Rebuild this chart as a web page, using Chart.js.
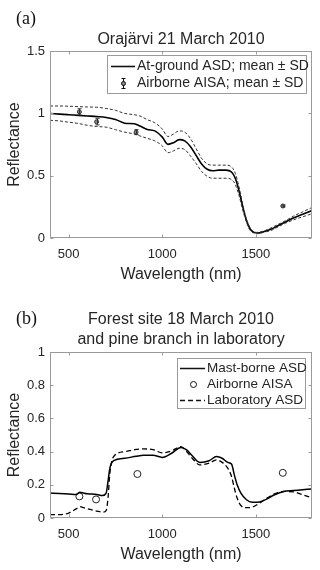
<!DOCTYPE html>
<html>
<head>
<meta charset="utf-8">
<script src="https://cdn.jsdelivr.net/npm/chart.js@4.4.1/dist/chart.umd.min.js"></script>
<style>
    html, body { margin: 0; padding: 0; background: #fff; }
    body { width: 320px; height: 570px; position: relative; overflow: hidden; }
    .panel { position: absolute; left: 0; width: 320px; }
    .tag { position: absolute; left: 16px; font-family: 'Liberation Serif', 'Times New Roman', serif; font-size: 18px; line-height: 18px; color: #111; }
</style>
</head>
<body>
<div class="panel" style="top:0;height:290px"><canvas id="chartA" width="320" height="290"></canvas></div>
<div class="tag" style="top:9px">(a)</div>
<div class="panel" style="top:290px;height:280px"><canvas id="chartB" width="320" height="280"></canvas></div>
<div class="tag" style="top:309px">(b)</div>
<script>
// ---- panel (a): Orajärvi 21 March 2010 ----
var waveA = [400, 450, 500, 550, 600, 650, 700, 750, 800, 850, 880, 920, 960, 1000, 1030, 1060, 1090, 1120, 1150, 1180,
             1210, 1240, 1270, 1300, 1340, 1370, 1390, 1410, 1430, 1450, 1470, 1490, 1510, 1540, 1580, 1620, 1660, 1700, 1750, 1800];
var meanA = [1.00, 0.995, 0.99, 0.985, 0.98, 0.975, 0.968, 0.952, 0.922, 0.917, 0.9, 0.872, 0.86, 0.81, 0.752, 0.765, 0.79, 0.78, 0.735, 0.665,
             0.595, 0.552, 0.54, 0.545, 0.545, 0.53, 0.48, 0.38, 0.25, 0.14, 0.07, 0.045, 0.04, 0.05, 0.07, 0.10, 0.13, 0.16, 0.19, 0.22];
var upperA = [1.06, 1.06, 1.058, 1.055, 1.052, 1.05, 1.04, 1.025, 1.0, 0.99, 0.98, 0.95, 0.925, 0.875, 0.815, 0.835, 0.86, 0.85, 0.80, 0.72,
              0.64, 0.595, 0.585, 0.585, 0.585, 0.57, 0.52, 0.41, 0.27, 0.15, 0.08, 0.05, 0.045, 0.055, 0.08, 0.11, 0.14, 0.175, 0.21, 0.245];
var lowerA = [0.945, 0.94, 0.93, 0.92, 0.905, 0.895, 0.89, 0.87, 0.85, 0.835, 0.82, 0.80, 0.78, 0.74, 0.685, 0.70, 0.72, 0.71, 0.66, 0.60,
              0.535, 0.495, 0.48, 0.48, 0.48, 0.47, 0.43, 0.34, 0.225, 0.125, 0.06, 0.04, 0.035, 0.045, 0.06, 0.09, 0.12, 0.145, 0.17, 0.195];
var aisaWaveA = [557, 649, 860, 1644];
var aisaMeanA = [1.013, 0.933, 0.85, 0.257];
var aisaSdA = [0.025, 0.025, 0.02, 0.008];
var yTicksA = [0, 0.5, 1, 1.5];

// ---- panel (b): forest site 18 March 2010 and pine branch in laboratory ----
var waveB = [400, 450, 500, 540, 560, 580, 600, 650, 680, 700, 710, 720, 740, 800, 860, 900, 950, 1000, 1050, 1100,
             1130, 1160, 1200, 1250, 1290, 1320, 1350, 1370, 1385, 1400, 1420, 1450, 1480, 1520, 1560, 1600, 1650, 1700, 1750, 1800];
var mastB = [0.150, 0.148, 0.145, 0.142, 0.155, 0.150, 0.146, 0.142, 0.135, 0.150, 0.22, 0.30, 0.345, 0.36, 0.372, 0.378, 0.378, 0.365, 0.39, 0.425,
             0.41, 0.375, 0.335, 0.345, 0.37, 0.36, 0.335, 0.325, 0.26, 0.20, 0.15, 0.11, 0.095, 0.097, 0.115, 0.14, 0.16, 0.165, 0.17, 0.175];
var labB = [0.020, 0.020, 0.030, 0.055, 0.068, 0.062, 0.055, 0.042, 0.035, 0.045, 0.12, 0.27, 0.37, 0.40, 0.413, 0.416, 0.412, 0.392, 0.405, 0.43,
            0.40, 0.36, 0.32, 0.33, 0.35, 0.335, 0.30, 0.25, 0.18, 0.12, 0.075, 0.062, 0.065, 0.09, 0.12, 0.145, 0.16, 0.158, 0.14, 0.122];
var aisaWaveB = [557, 646, 867, 1644];
var aisaB = [0.13, 0.112, 0.265, 0.272];
var yTicksB = [0, 0.2, 0.4, 0.6, 0.8, 1];

var xTicks = [500, 1000, 1500];

var FONT = "'Liberation Sans', Arial, sans-serif";
var INK = '#262626';
var EDGE = '#9a9a9a';
Chart.defaults.font.family = FONT;
Chart.defaults.color = INK;

function pairs(xs, ys) {
    var out = [];
    for (var i = 0; i < xs.length; i++) out.push({ x: xs[i], y: ys[i] });
    return out;
}

function xScale() {
    return {
        type: 'linear', min: 400, max: 1800,
        grid: { display: false, drawTicks: false }, border: { display: false },
        ticks: { padding: 9, font: { size: 13 }, color: INK, callback: function(v) { return String(v); } },
        afterBuildTicks: function(s) { s.ticks = xTicks.map(function(v) { return { value: v }; }); },
        afterFit: function(s) { s.height = 46; },
        title: { display: true, text: 'Wavelength (nm)', font: { size: 16 }, color: INK, padding: { top: 0, bottom: 0 } }
    };
}

function yScale(max, ticks) {
    return {
        type: 'linear', min: 0, max: max,
        grid: { display: false, drawTicks: false }, border: { display: false },
        ticks: { padding: 5, font: { size: 13 }, color: INK, callback: function(v) { return String(v); } },
        afterBuildTicks: function(s) { s.ticks = ticks.map(function(v) { return { value: v }; }); },
        afterFit: function(s) { s.width = 50; },
        title: { display: true, text: 'Reflectance', font: { size: 16 }, color: INK, padding: { top: 5, bottom: 0 } }
    };
}

// box with inward tick marks on all four sides
var framePlugin = {
    id: 'frame',
    afterDatasetsDraw: function(chart) {
        var a = chart.chartArea, ctx = chart.ctx;
        var sx = chart.scales.x, sy = chart.scales.y;
        var L = Math.round(a.left) + 0.5, R = Math.round(a.right) - 0.5;
        var T = Math.round(a.top) + 0.5, B = Math.round(a.bottom) - 0.5;
        ctx.save();
        ctx.strokeStyle = EDGE;
        ctx.lineWidth = 1;
        ctx.strokeRect(L, T, R - L, B - T);
        ctx.beginPath();
        sx.ticks.forEach(function(t) {
            var px = Math.round(sx.getPixelForValue(t.value)) + 0.5;
            ctx.moveTo(px, B); ctx.lineTo(px, B - 3);
            ctx.moveTo(px, T); ctx.lineTo(px, T + 3);
        });
        sy.ticks.forEach(function(t) {
            var py = Math.round(sy.getPixelForValue(t.value)) + 0.5;
            ctx.moveTo(L, py); ctx.lineTo(L + 3, py);
            ctx.moveTo(R, py); ctx.lineTo(R - 3, py);
        });
        ctx.stroke();
        ctx.restore();
    }
};

// vertical error bars for datasets carrying an errorBars array
var errorBarPlugin = {
    id: 'errorBars',
    afterDatasetsDraw: function(chart) {
        var ctx = chart.ctx, sx = chart.scales.x, sy = chart.scales.y;
        chart.data.datasets.forEach(function(ds) {
            if (!ds.errorBars) return;
            ctx.save();
            ctx.strokeStyle = '#333';
            ctx.lineWidth = 1;
            ds.data.forEach(function(p, i) {
                var px = Math.round(sx.getPixelForValue(p.x)) + 0.5;
                var y0 = sy.getPixelForValue(p.y - ds.errorBars[i]);
                var y1 = sy.getPixelForValue(p.y + ds.errorBars[i]);
                ctx.beginPath();
                ctx.moveTo(px, y0); ctx.lineTo(px, y1);
                ctx.moveTo(px - 2, y0); ctx.lineTo(px + 2, y0);
                ctx.moveTo(px - 2, y1); ctx.lineTo(px + 2, y1);
                ctx.stroke();
            });
            ctx.restore();
        });
    }
};

// boxed legend in the upper right of the plot, drawn like the original figure
function boxLegend(box, items) {
    return {
        id: 'boxLegend',
        afterDraw: function(chart) {
            var a = chart.chartArea, ctx = chart.ctx;
            var bx = Math.round(a.left + box.dx), by = Math.round(a.top + box.dy);
            ctx.save();
            ctx.fillStyle = '#fff';
            ctx.fillRect(bx, by, box.w, box.h);
            ctx.strokeStyle = EDGE;
            ctx.lineWidth = 1;
            ctx.strokeRect(bx + 0.5, by + 0.5, box.w - 1, box.h - 1);
            ctx.font = box.font + 'px ' + FONT;
            ctx.textBaseline = 'middle';
            items.forEach(function(it, i) {
                var cy = Math.round(by + box.rowTop + i * box.rowGap) + 0.5;
                var x0 = bx + box.s0, x1 = bx + box.s1, xc = Math.round((x0 + x1) / 2) + 0.5;
                ctx.strokeStyle = '#111';
                if (it.kind === 'line') {
                    ctx.lineWidth = it.width;
                    ctx.setLineDash(it.dash);
                    ctx.beginPath(); ctx.moveTo(x0, cy); ctx.lineTo(x1, cy); ctx.stroke();
                    ctx.setLineDash([]);
                } else if (it.kind === 'errbar') {
                    ctx.lineWidth = 1;
                    ctx.beginPath();
                    ctx.moveTo(xc, cy - 5); ctx.lineTo(xc, cy + 5);
                    ctx.moveTo(xc - 2, cy - 5); ctx.lineTo(xc + 2, cy - 5);
                    ctx.moveTo(xc - 2, cy + 5); ctx.lineTo(xc + 2, cy + 5);
                    ctx.stroke();
                    ctx.fillStyle = '#888';
                    ctx.beginPath(); ctx.arc(xc, cy, 2, 0, Math.PI * 2); ctx.fill(); ctx.stroke();
                } else if (it.kind === 'circle') {
                    ctx.lineWidth = 1;
                    ctx.beginPath(); ctx.arc(xc, cy, 3, 0, Math.PI * 2); ctx.stroke();
                }
                ctx.fillStyle = INK;
                ctx.fillText(it.text, bx + box.t0, cy);
            });
            ctx.restore();
        }
    };
}

new Chart(document.getElementById('chartA'), {
    type: 'scatter',
    data: {
        datasets: [
            { data: pairs(waveA, upperA), showLine: true, borderColor: '#333', borderWidth: 1, borderDash: [3, 2], pointRadius: 0, cubicInterpolationMode: 'monotone' },
            { data: pairs(waveA, lowerA), showLine: true, borderColor: '#333', borderWidth: 1, borderDash: [3, 2], pointRadius: 0, cubicInterpolationMode: 'monotone' },
            { data: pairs(waveA, meanA), showLine: true, borderColor: '#000', borderWidth: 1.6, pointRadius: 0, cubicInterpolationMode: 'monotone' },
            { data: pairs(aisaWaveA, aisaMeanA), errorBars: aisaSdA, pointRadius: 2, pointBorderWidth: 1, pointBorderColor: '#333', pointBackgroundColor: '#888' }
        ]
    },
    options: {
        responsive: false, animation: false,
        layout: { padding: { top: 0, right: 8, bottom: 6, left: 0 } },
        plugins: {
            legend: { display: false }, tooltip: { enabled: false },
            title: { display: true, fullSize: false, text: 'Orajärvi 21 March 2010', color: INK, font: { size: 16, weight: 'normal', lineHeight: 1.2 }, padding: { top: 30, bottom: 2 } }
        },
        scales: { x: xScale(), y: yScale(1.5, yTicksA) }
    },
    plugins: [framePlugin, errorBarPlugin, boxLegend(
        { dx: 57, dy: 4, w: 200, h: 39, rowTop: 11, rowGap: 17, s0: 4, s1: 28, t0: 30, font: 14 },
        [
            { kind: 'line', width: 1.6, dash: [], text: 'At-ground ASD; mean \u00b1 SD' },
            { kind: 'errbar', text: 'Airborne AISA; mean \u00b1 SD' }
        ]
    )]
});

new Chart(document.getElementById('chartB'), {
    type: 'scatter',
    data: {
        datasets: [
            { data: pairs(waveB, mastB), showLine: true, borderColor: '#000', borderWidth: 1.5, pointRadius: 0, cubicInterpolationMode: 'monotone' },
            { data: pairs(aisaWaveB, aisaB), pointRadius: 3.5, pointBorderWidth: 1, pointBorderColor: '#222', pointBackgroundColor: 'rgba(0,0,0,0)' },
            { data: pairs(waveB, labB), showLine: true, borderColor: '#000', borderWidth: 1.3, borderDash: [5, 3], pointRadius: 0, cubicInterpolationMode: 'monotone' }
        ]
    },
    options: {
        responsive: false, animation: false,
        layout: { padding: { top: 0, right: 8, bottom: 6, left: 0 } },
        plugins: {
            legend: { display: false }, tooltip: { enabled: false },
            title: { display: true, fullSize: false, text: ['Forest site 18 March 2010', 'and pine branch in laboratory'], color: INK, font: { size: 16, weight: 'normal', lineHeight: 1.25 }, padding: { top: 20, bottom: 2 } }
        },
        scales: { x: xScale(), y: yScale(1, yTicksB) }
    },
    plugins: [framePlugin, boxLegend(
        { dx: 127, dy: 6, w: 129, h: 51, rowTop: 9.5, rowGap: 16.3, s0: 3, s1: 28, t0: 30, font: 13.5 },
        [
            { kind: 'line', width: 1.5, dash: [], text: 'Mast-borne ASD' },
            { kind: 'circle', text: 'Airborne AISA' },
            { kind: 'line', width: 1.3, dash: [5, 3], text: 'Laboratory ASD' }
        ]
    )]
});
</script>
</body>
</html>
